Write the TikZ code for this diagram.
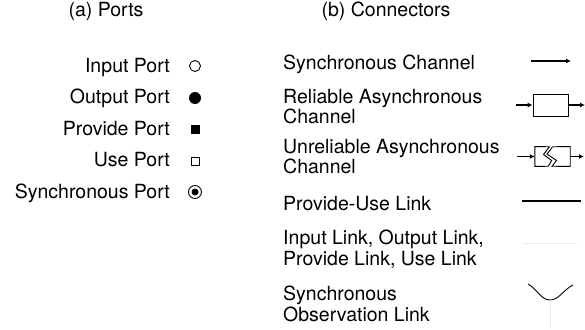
\documentclass[tikz,border=0pt]{standalone}
\usepackage{fontspec}
\setmainfont{TeX Gyre Heros}
\usetikzlibrary{arrows.meta}
\begin{document}
\begin{tikzpicture}[x=1pt,y=-1pt,
  lbl/.style={inner sep=0pt,font=\fontsize{19.5}{20.5}\selectfont},
  portlbl/.style={lbl,anchor=base east},
  connlbl/.style={lbl,anchor=base west},
  sym/.style={line width=0.9pt},
  chan/.style={line width=1.4pt,-{Latex[length=5pt,width=5pt]}},
  faint/.style={draw=black!7,line width=0.8pt}]
\useasboundingbox (0,0) rectangle (585,329);

% column titles
\node[lbl,anchor=base] (ta) at (106,17) {(a) Ports};
\node[lbl,anchor=base] (tb) at (386,17) {(b) Connectors};

% (a) ports
\node[portlbl] (pin)  at (170,72)    {Input Port};
\node[portlbl] (pout) at (170,103.5) {Output Port};
\node[portlbl] (pprv) at (170,135)   {Provide Port};
\node[portlbl] (puse) at (170,166.5) {Use Port};
\node[portlbl] (psyn) at (170,198)   {Synchronous Port};

\draw[sym] (195,66) circle (5.5);
\fill (195,98) circle (6);
\fill (190.5,125) rectangle (199.5,134);
\draw[sym] (191,157) rectangle (199,165);
\draw[sym] (195,192) circle (6.5);
\fill (195,192) circle (3.5);

% (b) connectors
\node[connlbl] (csc)  at (283,69)  {Synchronous Channel};
\node[connlbl] (cra1) at (283,103) {Reliable Asynchronous};
\node[connlbl] (cra2) at (283,123) {Channel};
\node[connlbl] (cua1) at (283,153) {Unreliable Asynchronous};
\node[connlbl] (cua2) at (283,173) {Channel};
\node[connlbl] (cpu)  at (283,210) {Provide-Use Link};
\node[connlbl] (cil1) at (283,244) {Input Link, Output Link,};
\node[connlbl] (cil2) at (283,265) {Provide Link, Use Link};
\node[connlbl] (cso1) at (283,300) {Synchronous};
\node[connlbl] (cso2) at (283,321) {Observation Link};

% synchronous channel
\coordinate (sc1) at (531,61);
\coordinate (sc2) at (571,61);
\draw[chan] (sc1) -- (sc2);

% reliable asynchronous channel
\node[draw,line width=0.9pt,minimum width=35pt,minimum height=22pt,inner sep=0pt] (rbox) at (550.5,105) {};
\coordinate (ra1) at (516,105);
\coordinate (ra2) at (585,105);
\draw[chan] (ra1) -- (rbox.west);
\draw[chan] (rbox.east) -- (ra2);

% unreliable asynchronous channel (box broken by a zigzag)
\node[minimum width=35pt,minimum height=19.5pt,inner sep=0pt] (ubox) at (552.5,156.5) {};
\draw[sym,line join=miter] (549.3,146.75) -- (ubox.north west) -- (ubox.south west) -- (548.3,166.25)
  -- (551.7,160.5) -- (543.5,154.5) -- cycle;
\draw[sym,line join=miter] (552.7,146.75) -- (ubox.north east) -- (ubox.south east) -- (552,166.25)
  -- (556.5,160.5) -- (547,154) -- cycle;
\coordinate (ua1) at (517,156.5);
\coordinate (ua2) at (584,156.5);
\draw[chan] (ua1) -- (ubox.west);
\draw[chan] (ubox.east) -- (ua2);

% provide-use link
\coordinate (pu1) at (522,201);
\coordinate (pu2) at (581,201);
\draw[line width=1.4pt] (pu1) -- (pu2);

% input / output / provide / use link (barely visible)
\coordinate (il1) at (523,243);
\coordinate (il2) at (577,243);
\draw[faint] (il1) -- (il2);

% synchronous observation link
\coordinate (so1) at (528,284);
\coordinate (so0) at (550,300);
\coordinate (so2) at (573,285);
\coordinate (so3) at (550,329);
\draw[line width=0.9pt] (so1) .. controls (537,289) and (541,300) .. (so0)
  .. controls (559,300) and (563,290) .. (so2);
\draw[faint] (so0) -- (so3);
\end{tikzpicture}
\end{document}
